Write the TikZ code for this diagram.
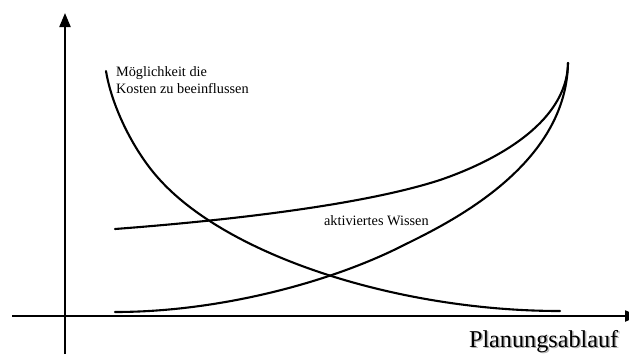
\documentclass[tikz,border=0pt]{standalone}
\usepackage{fontspec}
\setmainfont{Liberation Serif}
\usetikzlibrary{arrows.meta}
\begin{document}
\begin{tikzpicture}[x=1pt,y=-1pt,line join = round, line cap=round,>={Triangle[width=11pt,length=14pt]},line width=2.1pt]
			\useasboundingbox (0,0) rectangle (629,354);
			% Achsen
			\draw[->,line cap=butt] (65,354) -- (65,13);
			\draw[->,line cap=butt] (12,316) -- (639,316);
			
			% Moeglichkeit die Kosten zu beeinflussen
			\draw (106,71) .. controls (112,108) and (135,153) .. (160,180)
			.. controls (230,257) and (400,311) .. (560,311);
			% aktiviertes Wissen
			\draw (115,312) .. controls (220,312) and (330,282) .. (400,247)
			.. controls (440,227) and (566,170) .. (568,63);
			\draw (115,229) .. controls (220,221) and (360,206) .. (440,180)
			.. controls (490,163) and (567,125) .. (568,63);
			
			\node[anchor=base west,align=left,inner sep=0pt,font=\fontsize{14.3}{17}\selectfont] (kosten) at (115,93) {Möglichkeit die\\Kosten zu beeinflussen};
			\node[anchor=base west,inner sep=0pt,font=\fontsize{14.3}{17}\selectfont] (wissen) at (323,225) {aktiviertes Wissen};
			\node[anchor=base west,inner sep=0pt,font=\fontsize{24.2}{29}\selectfont,text=black!30] at (469.5,348.5) {Planungsablauf};
			\node[anchor=base west,inner sep=0pt,font=\fontsize{24.2}{29}\selectfont] (ablauf) at (468,347) {Planungsablauf};
		\end{tikzpicture}
\end{document}
